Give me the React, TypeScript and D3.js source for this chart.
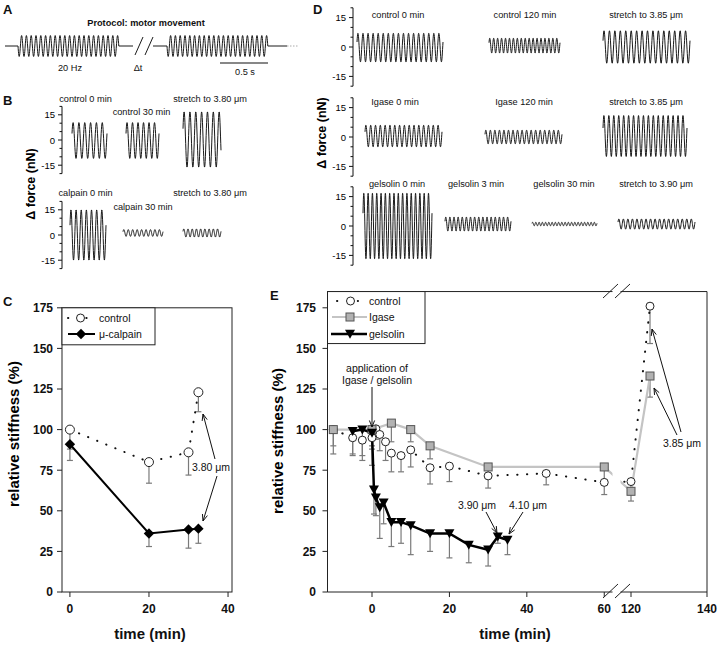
import React from "react";
import * as d3 from "d3";

const FONT = "'Liberation Sans', Arial, Helvetica, sans-serif";

// ---------------- Panel A (protocol) ----------------
const motorFreqHz = 20;
const motorCycles = [21, 21];
const scaleBarSec = 0.5;
const aTexts = ["Protocol: motor movement", "20 Hz", "\u0394t", "0.5 s"];

// ---------------- Panel B (force traces) ----------------
const bLabels = ["control 0 min", "control 30 min", "stretch to 3.80 \u03bcm", "calpain 0 min", "calpain 30 min", "stretch to 3.80 \u03bcm"];
const bAmp = [10.7, 10.7, 16.5, 15, 2, 2.4];
const bOffset = [-0.3, -0.3, 0.3, 0, 1.2, 1.2];
const bCycles = [6, 6, 6.5, 7, 9, 9];

// ---------------- Panel D (force traces) ----------------
const dLabels = [
  "control 0 min", "control 120 min", "stretch to 3.85 \u03bcm",
  "Igase 0 min", "Igase 120 min", "stretch to 3.85 \u03bcm",
  "gelsolin 0 min", "gelsolin 3 min", "gelsolin 30 min", "stretch to 3.90 \u03bcm",
];
const dAmp = [7.3, 3.8, 8.3, 5.5, 3.5, 10.5, 16.8, 3.6, 0.9, 2.6];
const dOffset = [-0.3, 0.7, 0, 0.5, 0, 0.5, 0, 1, 1, 1];
const dCycles = [17, 18, 16, 16, 17, 17, 16, 16, 20, 17];
const forceTicks = [-15, 0, 15];

// ---------------- Panel C (stiffness, calpain) ----------------
const cTime = [0, 20, 30, 32.5];
const cControl = [100, 80, 86, 123];
const cControlLower = [88, 67, 72, 111];
const cCalpain = [91, 36, 38.5, 39];
const cCalpainLower = [81, 28, 27, 30];
const cXTicks = [0, 20, 40];
const stiffTicks = [0, 25, 50, 75, 100, 125, 150, 175];

// ---------------- Panel E (stiffness, Igase / gelsolin) ----------------
const eControlTime = [-10, -5, -2.5, 0, 1, 2, 3.5, 5, 7.5, 10, 15, 20, 30, 45, 60, 120, 125];
const eControl = [100, 95, 93.5, 95, 100.5, 97, 92.5, 85.5, 84, 87.5, 76.5, 77.5, 71.5, 73, 67.5, 68, 176];
const eControlLower = [90, 84, 81, 88, 94, 87, 81, 74, 74, 77, 66.5, 68, 64, 66, 60, 64, 153];
const eIgaseTime = [-10, 0, 5, 10, 15, 30, 60, 120, 125];
const eIgase = [100, 100, 104, 100, 90, 77, 77, 62, 133];
const eIgaseLower = [85, 90, 92.5, 92.5, 82, 70, 67, 56, 120];
const eGelsolinTime = [-5, -2.5, 0, 0.5, 1, 2, 3, 5, 7.5, 10, 15, 20, 25, 30, 32.5, 35];
const eGelsolin = [99, 100, 98, 63, 58, 52, 55, 43, 43, 41, 36, 36, 29, 26, 34, 32];
const eGelsolinLower = [85, 84, 78, 48, 47, 33, 42, 28, 30, 23, 25, 21, 18, 16, 30, 23];
const eXTicks = [0, 20, 40, 60, 120, 140];

// ---------------- helpers ----------------
const ERR = "#7a7a7a";
const IG_LINE = "#c4c4c4";
const IG_FILL = "#b2b2b2";

function Arrow({ x1, y1, x2, y2 }: { x1: number; y1: number; x2: number; y2: number }) {
  const a = Math.atan2(y2 - y1, x2 - x1);
  const L = 7, s = 0.38;
  const h1 = [x2 - L * Math.cos(a - s), y2 - L * Math.sin(a - s)];
  const h2 = [x2 - L * Math.cos(a + s), y2 - L * Math.sin(a + s)];
  return (
    <g stroke="#111" strokeWidth={1} fill="none">
      <line x1={x1} y1={y1} x2={x2} y2={y2} />
      <polyline points={`${h1[0]},${h1[1]} ${x2},${y2} ${h2[0]},${h2[1]}`} />
    </g>
  );
}

function Wave({ x0, x1, zero, k, amp, off, cycles, phase = 0.4 }: any) {
  const n = Math.round(cycles * 24);
  const xs = d3.scaleLinear().domain([0, cycles]).range([x0, x1]);
  const ys = d3.scaleLinear().domain([-1, 1]).range([zero + k, zero - k]);
  const pts: [number, number][] = d3.range(n + 1).map((i) => {
    const c = (i / n) * cycles;
    return [xs(c), ys(off + amp * Math.sin(2 * Math.PI * c + phase))];
  });
  return <path d={d3.line()(pts) || ""} fill="none" stroke="#1a1a1a" strokeWidth={1} />;
}

function ForceAxis({ x, zero, k }: { x: number; zero: number; k: number }) {
  const y = d3.scaleLinear().domain([-20, 20]).range([zero + 20 * k, zero - 20 * k]);
  const minor = d3.range(-20, 21, 5);
  return (
    <g>
      <line x1={x} x2={x} y1={y(20)} y2={y(-20)} stroke="#111" strokeWidth={1} />
      {minor.map((v) => (
        <line key={v} x1={x - (forceTicks.includes(v) ? 4 : 2.5)} x2={x} y1={y(v)} y2={y(v)} stroke="#111" strokeWidth={1} />
      ))}
      {forceTicks.map((v) => (
        <text key={v} x={x - 7} y={y(v) + 3.5} fontSize={9.5} textAnchor="end" fontFamily={FONT}>{v}</text>
      ))}
    </g>
  );
}

function Txt({ x, y, children, size = 9.2, anchor = "middle", weight = "normal", fill = "#111" }: any) {
  return (
    <text x={x} y={y} fontSize={size} textAnchor={anchor} fontWeight={weight} fontFamily={FONT} fill={fill}>{children}</text>
  );
}

function ErrBars({ xs, ys, t, v, lo }: any) {
  return (
    <g stroke={ERR} strokeWidth={1.2}>
      {t.map((tt: number, i: number) => (
        <g key={i}>
          <line x1={xs(tt)} x2={xs(tt)} y1={ys(v[i])} y2={ys(lo[i])} />
          <line x1={xs(tt) - 3} x2={xs(tt) + 3} y1={ys(lo[i])} y2={ys(lo[i])} />
        </g>
      ))}
    </g>
  );
}

const circleM = (x: number, y: number, r: number, key: any) => (
  <circle key={key} cx={x} cy={y} r={r} fill="white" stroke="#222" strokeWidth={1} />
);
const diamondM = (x: number, y: number, key: any) => (
  <polygon key={key} points={`${x},${y - 5.2} ${x + 5.2},${y} ${x},${y + 5.2} ${x - 5.2},${y}`} fill="#000" />
);
const squareM = (x: number, y: number, key: any) => (
  <rect key={key} x={x - 4} y={y - 4} width={8} height={8} fill={IG_FILL} stroke="#555" strokeWidth={1} />
);
const triM = (x: number, y: number, key: any) => (
  <polygon key={key} points={`${x - 5},${y - 4.2} ${x + 5},${y - 4.2} ${x},${y + 4.8}`} fill="#000" />
);

const DOT = { stroke: "#111", strokeWidth: 2, strokeDasharray: "0.3 9.5", strokeLinecap: "round" as const, fill: "none" };

export default function App() {
  // ---------- Panel A ----------
  const pxPerSec = 96;
  const aBase = 46;
  const aAmp = 10.5;
  const seg1Start = 5, osc1Start = 18;
  const osc1End = osc1Start + (motorCycles[0] / motorFreqHz) * pxPerSec;
  const seg2Start = 153, osc2Start = 167;
  const osc2End = osc2Start + (motorCycles[1] / motorFreqHz) * pxPerSec;
  const barEnd = 268;
  const barStart = barEnd - scaleBarSec * pxPerSec;

  // ---------- Panel C ----------
  const xC = d3.scaleLinear().domain([-2, 41]).range([62, 232]);
  const yC = d3.scaleLinear().domain([0, 175]).range([592, 592 - 175 * 1.624]);
  const lineC = d3.line<number>().x((_, i) => xC(cTime[i]));
  const cCtrlPath = d3.line<number>().x((_, i) => xC(cTime[i])).y((d) => yC(d))(cControl) || "";
  const cCalPath = d3.line<number>().x((_, i) => xC(cTime[i])).y((d) => yC(d))(cCalpain) || "";
  void lineC;

  // ---------- Panel E ----------
  const xE = d3.scaleLinear().domain([-11.5, 62, 117.5, 140]).range([327.5, 612, 621.5, 707]);
  const yE = d3.scaleLinear().domain([0, 185]).range([592, 592 - 185 * 1.624]);
  const mk = (t: number[], v: number[]) =>
    d3.line<number>().x((_, i) => xE(t[i])).y((d) => yE(d))(v) || "";
  const eTop = yE(185);
  const gapL = 612.5, gapR = 620.5;

  // ---------- layout of the trace columns ----------
  const bCols = [[72, 107], [126, 159], [183, 221], [70, 106], [123, 163], [183, 221]];
  const bZero = [140, 140, 140, 235, 235, 235];
  const bLabPos = [[85.5, 102], [141.5, 115], [210, 102], [85.5, 196], [143, 210], [210, 196]];
  const bK = 1.68;
  const dCols = [[357, 443], [489, 560], [603, 690], [365, 442], [485, 562], [603, 687], [363, 432], [445, 511], [532, 597], [618, 695]];
  const dZero = [47, 47, 47, 137, 137, 137, 226, 226, 226, 226];
  const dLabPos = [[398, 18], [525, 18], [646, 18], [395, 105], [524, 105], [646, 105], [397, 187], [476, 187], [564, 187], [656, 187]];
  const dK = 1.96;

  return (
    <svg width={720} height={646} style={{ position: "absolute", left: 0, top: 0, background: "#fff" }} fontFamily={FONT}>
      <rect width={720} height={646} fill="#fff" />

      {/* ================= Panel A ================= */}
      <Txt x={3} y={13.5} size={13} anchor="start" weight="bold">A</Txt>
      <Txt x={146} y={26} size={9.2} weight="bold">{aTexts[0]}</Txt>
      <g stroke="#1a1a1a" strokeWidth={1} fill="none">
        <line x1={seg1Start} x2={osc1Start} y1={aBase} y2={aBase} />
        <Wave x0={osc1Start} x1={osc1End} zero={aBase} k={aAmp} amp={1} off={0} cycles={motorCycles[0]} phase={Math.PI} />
        <line x1={osc1End} x2={133} y1={aBase} y2={aBase} />
        <line x1={135} y1={55} x2={143} y2={37} />
        <line x1={145} y1={55} x2={153} y2={37} />
        <line x1={seg2Start} x2={osc2Start} y1={aBase} y2={aBase} />
        <Wave x0={osc2Start} x1={osc2End} zero={aBase} k={aAmp} amp={1} off={0} cycles={motorCycles[1]} phase={Math.PI} />
        <line x1={osc2End} x2={287} y1={aBase} y2={aBase} />
        <line x1={287} x2={299} y1={aBase} y2={aBase} stroke="#aaa" strokeDasharray="1.5 1.5" />
        <line x1={barStart} x2={barEnd} y1={63} y2={63} stroke="#111" strokeWidth={1.2} />
      </g>
      <Txt x={70} y={71}>{aTexts[1]}</Txt>
      <Txt x={138} y={71}>{aTexts[2]}</Txt>
      <Txt x={245} y={75}>{aTexts[3]}</Txt>

      {/* ================= Panel B ================= */}
      <Txt x={3} y={105} size={13} anchor="start" weight="bold">B</Txt>
      <ForceAxis x={62} zero={140} k={bK} />
      <ForceAxis x={62} zero={235} k={bK} />
      {bLabels.map((l, i) => (
        <g key={i}>
          <Txt x={bLabPos[i][0]} y={bLabPos[i][1]}>{l}</Txt>
          <Wave x0={bCols[i][0]} x1={bCols[i][1]} zero={bZero[i]} k={bK} amp={bAmp[i]} off={bOffset[i]} cycles={bCycles[i]} />
        </g>
      ))}
      <text transform="translate(35,184) rotate(-90)" fontSize={12.5} fontWeight="bold" textAnchor="middle" fontFamily={FONT}>{"\u0394 force (nN)"}</text>

      {/* ================= Panel D ================= */}
      <Txt x={313} y={13.5} size={13} anchor="start" weight="bold">D</Txt>
      <ForceAxis x={353} zero={47} k={dK} />
      <ForceAxis x={353} zero={137} k={dK} />
      <ForceAxis x={353} zero={226} k={dK} />
      {dLabels.map((l, i) => (
        <g key={i}>
          <Txt x={dLabPos[i][0]} y={dLabPos[i][1]}>{l}</Txt>
          <Wave x0={dCols[i][0]} x1={dCols[i][1]} zero={dZero[i]} k={dK} amp={dAmp[i]} off={dOffset[i]} cycles={dCycles[i]} />
        </g>
      ))}
      <text transform="translate(326,133) rotate(-90)" fontSize={12.5} fontWeight="bold" textAnchor="middle" fontFamily={FONT}>{"\u0394 force (nN)"}</text>

      {/* ================= Panel C ================= */}
      <Txt x={3} y={306} size={13} anchor="start" weight="bold">C</Txt>
      <rect x={62} y={yC(175)} width={232 - 62} height={592 - yC(175)} fill="none" stroke="#222" strokeWidth={1} />
      {stiffTicks.map((v) => (
        <g key={v}>
          <line x1={57} x2={62} y1={yC(v)} y2={yC(v)} stroke="#222" />
          <Txt x={53} y={yC(v) + 4.3} size={12} anchor="end" weight="bold">{v}</Txt>
        </g>
      ))}
      {cXTicks.map((v) => (
        <g key={v}>
          <line x1={xC(v)} x2={xC(v)} y1={592} y2={597} stroke="#222" />
          <Txt x={xC(v)} y={613} size={12} weight="bold">{v}</Txt>
        </g>
      ))}
      <Txt x={150} y={639} size={15} weight="bold">time (min)</Txt>
      <text transform="translate(19,434) rotate(-90)" fontSize={15} fontWeight="bold" textAnchor="middle" fontFamily={FONT}>relative stiffness (%)</text>
      <ErrBars xs={xC} ys={yC} t={cTime} v={cControl} lo={cControlLower} />
      <ErrBars xs={xC} ys={yC} t={cTime} v={cCalpain} lo={cCalpainLower} />
      <path d={cCtrlPath} {...DOT} />
      <path d={cCalPath} fill="none" stroke="#000" strokeWidth={2} />
      {cTime.map((t, i) => circleM(xC(t), yC(cControl[i]), 4.5, "c" + i))}
      {cTime.map((t, i) => diamondM(xC(t), yC(cCalpain[i]), "d" + i))}
      {/* legend C */}
      <rect x={62} y={yC(175)} width={93} height={37} fill="#fff" stroke="#222" strokeWidth={1} />
      <line x1={68} x2={93} y1={318} y2={318} {...DOT} strokeDasharray="0.3 18" />
      {circleM(80.5, 318, 4, "lc")}
      <Txt x={99} y={321.5} size={10.5} anchor="start">control</Txt>
      <line x1={68} x2={95} y1={334} y2={334} stroke="#000" strokeWidth={2} />
      {diamondM(81, 334, "ld")}
      <Txt x={99} y={337.5} size={10.5} anchor="start">{"\u03bc-calpain"}</Txt>
      <Txt x={211} y={471} size={10.5}>{"3.80 \u03bcm"}</Txt>
      <Arrow x1={215} y1={459} x2={203} y2={414} />
      <Arrow x1={217} y1={476} x2={203} y2={521} />

      {/* ================= Panel E ================= */}
      <Txt x={270} y={300} size={13} anchor="start" weight="bold">E</Txt>
      <ErrBars xs={xE} ys={yE} t={eControlTime} v={eControl} lo={eControlLower} />
      <ErrBars xs={xE} ys={yE} t={eIgaseTime} v={eIgase} lo={eIgaseLower} />
      <ErrBars xs={xE} ys={yE} t={eGelsolinTime} v={eGelsolin} lo={eGelsolinLower} />
      <path d={mk(eIgaseTime, eIgase)} fill="none" stroke={IG_LINE} strokeWidth={2.2} />
      <path d={mk(eControlTime, eControl)} {...DOT} />
      <path d={mk(eGelsolinTime, eGelsolin)} fill="none" stroke="#000" strokeWidth={2.5} />
      <rect x={gapL} y={eTop + 1} width={gapR - gapL} height={592 - eTop - 2} fill="#fff" />
      {eControlTime.map((t, i) => circleM(xE(t), yE(eControl[i]), 4, "ec" + i))}
      {eIgaseTime.map((t, i) => squareM(xE(t), yE(eIgase[i]), "ei" + i))}
      {eGelsolinTime.map((t, i) => triM(xE(t), yE(eGelsolin[i]), "eg" + i))}
      {/* frame with break */}
      <g stroke="#222" strokeWidth={1} fill="none">
        <line x1={327.5} x2={327.5} y1={eTop} y2={592} />
        <line x1={707} x2={707} y1={eTop} y2={592} />
        <line x1={327.5} x2={gapL} y1={592} y2={592} />
        <line x1={gapR} x2={707} y1={592} y2={592} />
        <line x1={327.5} x2={gapL} y1={eTop} y2={eTop} />
        <line x1={gapR} x2={707} y1={eTop} y2={eTop} />
        <line x1={603} y1={598} x2={618} y2={584} />
        <line x1={615} y1={598} x2={630} y2={584} />
        <line x1={603} y1={298} x2={618} y2={284} />
        <line x1={615} y1={298} x2={630} y2={284} />
      </g>
      {stiffTicks.map((v) => (
        <g key={v}>
          <line x1={322.5} x2={327.5} y1={yE(v)} y2={yE(v)} stroke="#222" />
          <Txt x={316} y={yE(v) + 4.3} size={12} anchor="end" weight="bold">{v}</Txt>
        </g>
      ))}
      {eXTicks.map((v) => (
        <g key={v}>
          <line x1={xE(v)} x2={xE(v)} y1={592} y2={597} stroke="#222" />
          <Txt x={xE(v)} y={613} size={12} weight="bold">{v}</Txt>
        </g>
      ))}
      <Txt x={515} y={639} size={15} weight="bold">time (min)</Txt>
      <text transform="translate(283,441) rotate(-90)" fontSize={15} fontWeight="bold" textAnchor="middle" fontFamily={FONT}>relative stiffness (%)</text>
      {/* legend E */}
      <rect x={327.5} y={eTop} width={97.5} height={52} fill="#fff" stroke="#222" strokeWidth={1} />
      <line x1={337} x2={358} y1={301} y2={301} {...DOT} strokeDasharray="0.3 20.5" />
      {circleM(350.5, 301, 4, "lec")}
      <Txt x={369} y={304.5} size={10.5} anchor="start">control</Txt>
      <line x1={332} x2={367} y1={317} y2={317} stroke={IG_LINE} strokeWidth={2.2} />
      {squareM(350, 317, "lei")}
      <Txt x={369} y={320.5} size={10.5} anchor="start">Igase</Txt>
      <line x1={331} x2={367} y1={334} y2={334} stroke="#000" strokeWidth={2.5} />
      {triM(350, 334, "leg")}
      <Txt x={369} y={337.5} size={10.5} anchor="start">gelsolin</Txt>
      {/* annotations */}
      <Txt x={377} y={372} size={10.5}>application of</Txt>
      <Txt x={377} y={384} size={10.5}>Igase / gelsolin</Txt>
      <Arrow x1={372} y1={387} x2={372} y2={427} />
      <Txt x={477} y={509} size={10.5}>{"3.90 \u03bcm"}</Txt>
      <Arrow x1={486} y1={512} x2={497} y2={533} />
      <Txt x={528} y={509} size={10.5}>{"4.10 \u03bcm"}</Txt>
      <Arrow x1={523} y1={512} x2={509} y2={534} />
      <Txt x={682} y={447} size={10.5}>{"3.85 \u03bcm"}</Txt>
      <Arrow x1={681} y1={432} x2={652} y2={329} />
      <Arrow x1={677} y1={435} x2={654} y2={388} />
    </svg>
  );
}
